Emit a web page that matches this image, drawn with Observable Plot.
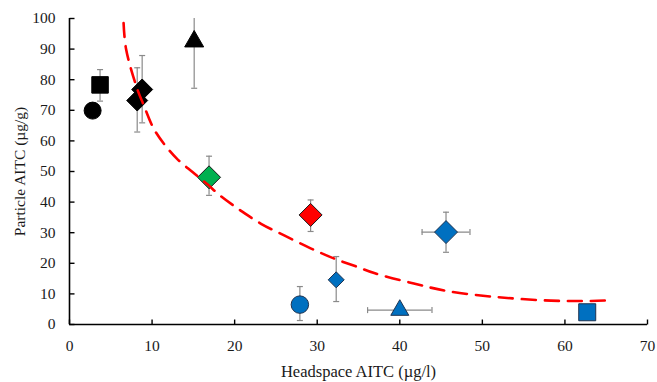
<!DOCTYPE html>
<html><head><meta charset="utf-8">
<script src="https://cdn.jsdelivr.net/npm/d3@7"></script>
<script src="https://cdn.jsdelivr.net/npm/@observablehq/plot@0.6"></script>
<style>body{margin:0;background:#fff;} #chart svg{display:block;}</style>
</head><body><div id="chart"></div>
<script>
// ---- data ----
const xTicks = [0, 10, 20, 30, 40, 50, 60, 70];
const yTicks = [0, 10, 20, 30, 40, 50, 60, 70, 80, 90, 100];
const xTitle = "Headspace AITC (µg/l)";
const yTitle = "Particle AITC (µg/g)";

const markerKind = ["black-circle", "black-square", "black-diamond", "black-diamond", "black-triangle",
  "green-diamond", "red-diamond", "blue-circle", "blue-diamond-small", "blue-triangle", "blue-diamond", "blue-square"];
const headspace = [2.8, 3.7, 8.2, 8.8, 15.1, 16.9, 29.2, 27.9, 32.3, 40.0, 45.6, 62.7];
const particle  = [69.9, 78.3, 73.2, 76.8, 92.5, 48.1, 35.8, 6.5, 14.6, 4.7, 30.2, 4.0];
const yErrLow   = [null, 73.0, 62.9, 65.9, 77.2, 42.2, 30.4, 1.3, 7.5, null, 23.6, null];
const yErrHigh  = [null, 83.3, 83.9, 87.9, 104, 55.0, 40.7, 12.4, 22.2, null, 36.7, null];
const xErrLow   = [null, null, null, null, null, null, null, null, null, 36.1, 42.7, null];
const xErrHigh  = [null, null, null, null, null, null, null, null, null, 43.9, 48.5, null];

const fitX = [6.55, 6.85, 8.2, 9.0, 10.2, 11.6, 13.0, 14.9, 16.7, 18.3, 20.7, 23.2, 26.0, 29.2, 32.0, 34.9, 36.9, 41.7, 45.8, 51.6, 58.3, 63.2, 65.8];
const fitY = [98.5, 90.0, 77.0, 71.6, 64.0, 58.5, 54.2, 49.8, 45.8, 42.0, 37.3, 32.9, 29.1, 24.9, 21.6, 18.8, 16.8, 13.4, 10.9, 9.0, 7.8, 7.7, 8.0];

// ---- styles ----
const styles = {
  "black-circle":       {symbol: "circle",   fill: "#000000", stroke: "#000000", w: 17},
  "black-square":       {symbol: "square",   fill: "#000000", stroke: "#000000", w: 16.5},
  "black-diamond":      {symbol: "diamond2", fill: "#000000", stroke: "#000000", w: 21},
  "black-triangle":     {symbol: "triangle", fill: "#000000", stroke: "#000000", w: 19},
  "green-diamond":      {symbol: "diamond2", fill: "#00B050", stroke: "#1a1a1a", w: 23},
  "red-diamond":        {symbol: "diamond2", fill: "#FF0000", stroke: "#1a1a1a", w: 23},
  "blue-circle":        {symbol: "circle",   fill: "#0070C0", stroke: "#1F3350", w: 17.5},
  "blue-diamond-small": {symbol: "diamond2", fill: "#0070C0", stroke: "#1F3350", w: 16},
  "blue-triangle":      {symbol: "triangle", fill: "#0070C0", stroke: "#1F3350", w: 18},
  "blue-diamond":       {symbol: "diamond2", fill: "#0070C0", stroke: "#1F3350", w: 23},
  "blue-square":        {symbol: "square",   fill: "#0070C0", stroke: "#1F3350", w: 17}
};
const SQPI = Math.sqrt(Math.PI);
function radiusFor(symbol, w) {
  if (symbol === "circle") return w / 2;
  if (symbol === "square") return w / SQPI;
  if (symbol === "diamond2") return w / (1.2525 * SQPI);
  if (symbol === "triangle") return w / (1.5197 * SQPI);
  return w / 2;
}

const points = headspace.map((x, i) => ({
  x, y: particle[i], kind: markerKind[i],
  yLo: yErrLow[i], yHi: yErrHigh[i], xLo: xErrLow[i], xHi: xErrHigh[i]
}));
const yErrPts = points.filter(d => d.yLo != null);
const xErrPts = points.filter(d => d.xLo != null);
const fit = fitX.map((x, i) => ({x, y: fitY[i]}));

// custom glyphs
const capH = {draw(ctx, size) { const r = Math.sqrt(size / Math.PI); ctx.moveTo(-r, 0); ctx.lineTo(r, 0); }};
const capV = {draw(ctx, size) { const r = Math.sqrt(size / Math.PI); ctx.moveTo(0, -r); ctx.lineTo(0, r); }};
const tickUp = {draw(ctx, size) { const r = Math.sqrt(size / Math.PI); ctx.moveTo(0, 0); ctx.lineTo(0, -r); }};
const tickRight = {draw(ctx, size) { const r = Math.sqrt(size / Math.PI); ctx.moveTo(0, 0); ctx.lineTo(r, 0); }};

const errColor = "#8a8a8a";
const marks = [
  // error bars
  Plot.ruleX(yErrPts, {x: "x", y1: "yLo", y2: "yHi", stroke: errColor, strokeWidth: 1.2, clip: true}),
  Plot.dot(yErrPts, {x: "x", y: "yLo", symbol: capH, r: 3, stroke: errColor, fill: "none", strokeWidth: 1.2, clip: true}),
  Plot.dot(yErrPts, {x: "x", y: "yHi", symbol: capH, r: 3, stroke: errColor, fill: "none", strokeWidth: 1.2, clip: true}),
  Plot.ruleY(xErrPts, {y: "y", x1: "xLo", x2: "xHi", stroke: errColor, strokeWidth: 1.2}),
  Plot.dot(xErrPts, {x: "xLo", y: "y", symbol: capV, r: 3, stroke: errColor, fill: "none", strokeWidth: 1.2}),
  Plot.dot(xErrPts, {x: "xHi", y: "y", symbol: capV, r: 3, stroke: errColor, fill: "none", strokeWidth: 1.2}),
];
// markers
points.forEach(p => {
  const s = styles[p.kind];
  marks.push(Plot.dot([p], {x: "x", y: "y", symbol: s.symbol, r: radiusFor(s.symbol, s.w),
    fill: s.fill, stroke: s.stroke, strokeWidth: 1}));
});
// fitted curve
marks.push(Plot.line(fit, {x: "x", y: "y", stroke: "#FF0000", strokeWidth: 2.6,
  strokeDasharray: "14,9", curve: "catmull-rom"}));
// axis lines and inward ticks
marks.push(
  Plot.ruleX([0], {y1: 0, y2: 100, stroke: "#000", strokeWidth: 1.6}),
  Plot.ruleY([0], {x1: 0, x2: 70, stroke: "#000", strokeWidth: 1.6}),
  Plot.dot(xTicks, {x: d => d, y: () => 0, symbol: tickUp, r: 5, stroke: "#000", fill: "none", strokeWidth: 1.4}),
  Plot.dot(yTicks, {x: () => 0, y: d => d, symbol: tickRight, r: 5, stroke: "#000", fill: "none", strokeWidth: 1.4}),
  Plot.axisX(xTicks, {tickSize: 0, tickPadding: 15, fontSize: 15.5, label: null}),
  Plot.axisY(yTicks, {tickSize: 0, tickPadding: 14, fontSize: 15.5, label: null}),
  Plot.axisX({ticks: [], tickSize: 0, fontSize: 16.5, label: xTitle, labelAnchor: "center", labelOffset: 52, labelArrow: "none"}),
  Plot.axisY({ticks: [], tickSize: 0, fontSize: 15.5, label: yTitle, labelAnchor: "center", labelOffset: 56, labelArrow: "none"})
);

const chart = Plot.plot({
  width: 657, height: 382,
  marginLeft: 69, marginRight: 10, marginTop: 18, marginBottom: 58,
  style: {fontFamily: "'Liberation Serif', 'Times New Roman', serif", fontSize: "15px", color: "#1a1a1a", background: "#fff"},
  x: {domain: [0, 70]},
  y: {domain: [0, 100]},
  marks
});
document.getElementById("chart").appendChild(chart);
</script>
</body></html>
